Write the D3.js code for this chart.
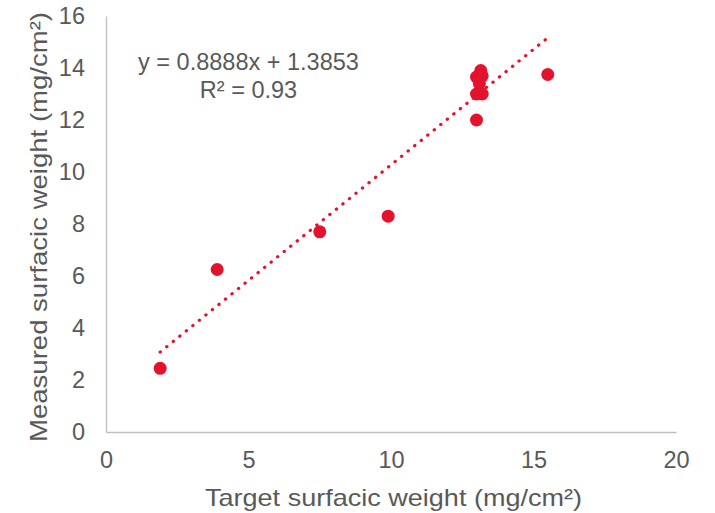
<!DOCTYPE html>
<html>
<head>
<meta charset="utf-8">
<script src="https://cdn.jsdelivr.net/npm/d3@7"></script>
<style>
  body { margin: 0; background: #fff; }
  text { font-family: "Liberation Sans", Arial, sans-serif; fill: #595959; }
</style>
</head>
<body>
<svg width="715" height="513"></svg>
<script>
// target vs measured surfacic weight (mg/cm2)
var targetX = [1.9, 3.9, 7.5, 9.9, 13.0, 13.0, 13.2, 13.0, 13.15, 13.2, 13.1, 15.5];
var measuredY = [2.45, 6.25, 7.7, 8.3, 12.0, 13.0, 13.0, 13.65, 13.9, 13.7, 13.4, 13.75];

var xTicks = [0, 5, 10, 15, 20];
var yTicks = [0, 2, 4, 6, 8, 10, 12, 14, 16];

// linear trend from the chart label
var trendSlope = 0.8888;
var trendIntercept = 1.3853;
var trendRange = [1.9, 15.5];
var trendLabels = ["y = 0.8888x + 1.3853", "R² = 0.93"];

var red = "#e3132d";

var svg = d3.select("svg");

var x = d3.scaleLinear().domain([0, 20]).range([106, 676]);
var y = d3.scaleLinear().domain([0, 16]).range([432, 16]);

// axes
var xAxis = svg.append("g")
  .attr("transform", "translate(0," + y(0) + ")")
  .call(d3.axisBottom(x).tickValues(xTicks).tickSize(0).tickPadding(19));
var yAxis = svg.append("g")
  .attr("transform", "translate(" + x(0) + ",0)")
  .call(d3.axisLeft(y).tickValues(yTicks).tickSize(0).tickPadding(21));

[xAxis, yAxis].forEach(function(g){
  g.select(".domain").attr("stroke", "#bfbfbf").attr("stroke-width", 1.3);
  g.selectAll("text")
    .style("font-family", '"Liberation Sans", Arial, sans-serif')
    .style("font-size", "23.5px")
    .attr("fill", "#595959");
});

// trend line
svg.append("line")
  .attr("x1", x(trendRange[0]))
  .attr("y1", y(trendSlope * trendRange[0] + trendIntercept))
  .attr("x2", x(trendRange[1]))
  .attr("y2", y(trendSlope * trendRange[1] + trendIntercept))
  .attr("stroke", red)
  .attr("stroke-width", 3.2)
  .attr("stroke-linecap", "round")
  .attr("stroke-dasharray", "0.3,8.1");

// points
svg.selectAll("circle")
  .data(d3.range(targetX.length))
  .enter()
  .append("circle")
  .attr("cx", function(i){ return x(targetX[i]); })
  .attr("cy", function(i){ return y(measuredY[i]); })
  .attr("r", 6.5)
  .attr("fill", red);

// equation label
svg.selectAll(".eq")
  .data(trendLabels)
  .enter()
  .append("text")
  .attr("class", "eq")
  .attr("x", 248.5)
  .attr("y", function(d, i){ return 70 + i * 28; })
  .attr("text-anchor", "middle")
  .style("font-size", "23.5px")
  .text(function(d){ return d; });

// axis titles
svg.append("text")
  .attr("x", 205)
  .attr("y", 506)
  .attr("textLength", 377)
  .attr("lengthAdjust", "spacingAndGlyphs")
  .style("font-size", "24px")
  .text("Target surfacic weight (mg/cm²)");

svg.append("text")
  .attr("transform", "translate(47,442) rotate(-90)")
  .attr("textLength", 430)
  .attr("lengthAdjust", "spacingAndGlyphs")
  .style("font-size", "24px")
  .text("Measured surfacic weight (mg/cm²)");
</script>
</body>
</html>
